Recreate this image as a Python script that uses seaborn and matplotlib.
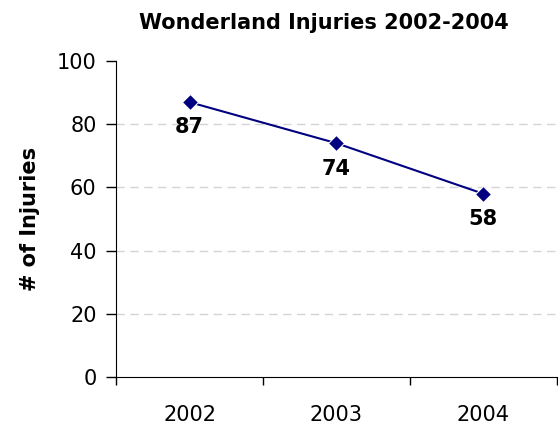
import pandas as pd
import matplotlib
matplotlib.use('Agg')
import matplotlib.pyplot as plt
import seaborn as sns

years = ['2002', '2003', '2004']
injuries = [87, 74, 58]

sns.set_style('white')
plt.rcParams['font.family'] = ['DejaVu Sans']
plt.rcParams['text.color'] = 'black'
plt.rcParams['axes.labelcolor'] = 'black'
plt.rcParams['xtick.color'] = 'black'
plt.rcParams['ytick.color'] = 'black'

df = pd.DataFrame({'year': years, 'injuries': injuries})

fig = plt.figure(figsize=(5.58, 4.3), dpi=100)
ax = fig.add_axes([0.208, 0.123, 0.79, 0.735])

sns.lineplot(data=df, x='year', y='injuries', ax=ax, color='#000080',
             marker='D', markersize=8, linewidth=1.5, sort=False)

for i, v in enumerate(injuries):
    ax.annotate(str(v), (i, v), xytext=(0, -11), textcoords='offset points',
                ha='center', va='top', fontsize=15, fontweight='bold')

ax.set_xlim(-0.5, 2.5)
ax.set_ylim(0, 100)
ax.set_yticks(range(0, 101, 20))
ax.set_xticks([0, 1, 2])
ax.set_xticks([-0.5, 0.5, 1.5, 2.5], minor=True)
ax.tick_params(axis='x', which='major', length=0, pad=20, labelsize=15)
ax.tick_params(axis='x', which='minor', length=6, width=1, direction='out', bottom=True)
ax.tick_params(axis='y', length=7, width=1, direction='out', left=True, labelsize=15, pad=7)

for y in range(20, 100, 20):
    ax.axhline(y, color='#d4d4d4', linestyle=(0, (6, 4)), linewidth=1, zorder=0)

sns.despine(ax=ax)
ax.spines['left'].set_color('black')
ax.spines['bottom'].set_color('black')
ax.set_xlabel('')
ax.set_ylabel('# of Injuries', fontsize=15, fontweight='bold', labelpad=12)
fig.suptitle('Wonderland Injuries 2002-2004', x=0.58, y=0.97, fontsize=15, fontweight='bold')

fig.savefig('out.png', dpi=100)
